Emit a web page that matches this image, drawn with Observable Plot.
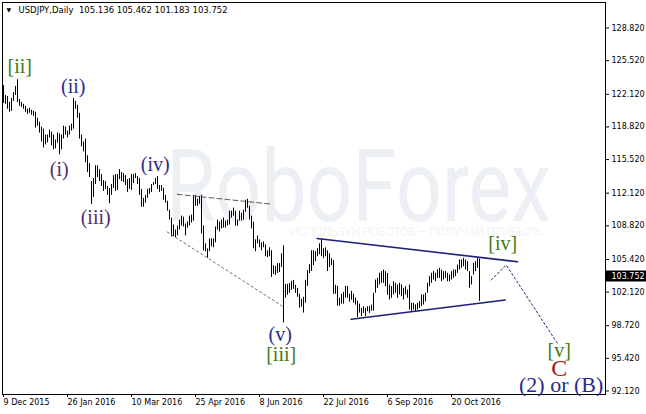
<!DOCTYPE html>
<html><head><meta charset="utf-8">
<script src="https://cdn.jsdelivr.net/npm/d3@7"></script>
<script src="https://cdn.jsdelivr.net/npm/@observablehq/plot@0.6"></script>
<style>
html,body{margin:0;padding:0;background:#fff;}
svg{display:block;}
</style></head>
<body>
<script>
// ---- data ----
const symbolName = "USDJPY,Daily";
const lastOHLC = [105.136, 105.462, 101.183, 103.752];
const xTickIdx = [0, 32, 64, 96, 128, 160, 192, 224];
const xTickLabels = ["9 Dec 2015", "26 Jan 2016", "10 Mar 2016", "25 Apr 2016", "8 Jun 2016", "22 Jul 2016", "6 Sep 2016", "20 Oct 2016"];
const yTicks = [128.82, 125.52, 122.12, 118.82, 115.52, 112.12, 108.82, 105.42, 102.12, 98.72, 95.42, 92.12];

// daily highs, 9 Dec 2015 .. 9 Nov 2016
const highs = [
123.0,122.0,121.9,121.3,121.7,122.3,122.9,123.6,121.6,121.3,121.1,120.9,120.6,120.7,120.5,120.4,
120.3,119.7,119.3,118.8,118.6,118.0,118.0,118.5,118.3,118.0,117.5,118.2,118.1,118.0,118.9,118.8,118.4,118.9,119.1,121.7,
121.4,121.0,120.2,118.0,117.3,117.6,115.9,115.1,113.3,113.6,114.9,114.9,114.5,114.0,113.4,113.3,112.8,112.6,113.0,113.9,114.0,
114.0,114.5,114.2,114.1,113.9,113.5,113.6,114.0,114.0,114.1,113.8,113.6,112.5,111.6,111.9,112.5,112.6,113.0,113.2,113.6,113.8,112.9,112.9,
112.6,111.9,111.3,110.4,109.6,108.9,108.4,108.8,109.4,109.8,109.7,109.0,109.2,109.8,109.9,111.9,111.9,111.5,111.8,111.9,108.8,
107.0,106.5,107.5,107.5,107.5,108.7,109.4,109.2,109.4,109.6,109.3,109.4,110.3,110.3,110.6,110.3,109.4,110.3,110.1,110.4,111.4,111.5,
110.8,109.8,109.2,107.4,107.8,107.4,107.1,107.2,106.9,106.3,106.6,106.3,104.8,104.7,105.0,105.0,106.0,106.8,102.9,102.9,103.0,103.2,
103.3,102.8,102.5,101.9,101.4,101.6,103.3,104.3,104.9,106.3,106.3,106.2,106.5,107.0,107.5,106.5,106.6,106.3,106.0,105.5,105.3,
102.8,102.7,101.5,101.9,102.1,102.7,102.7,101.9,102.2,101.9,101.5,101.2,100.9,100.48,100.65,100.48,100.65,100.65,100.8,102.0,103.34,103.51,104.02,
104.19,104.35,104.19,104.0,102.84,102.67,103.17,103.01,102.84,103.01,102.84,102.5,102.67,102.33,102.84,100.98,100.98,100.82,100.98,101.15,101.83,101.83,
102.0,103.01,103.68,104.02,104.19,104.02,104.35,104.52,104.35,104.19,104.19,104.02,103.85,104.19,104.35,104.35,104.86,105.37,105.37,105.53,105.37,
105.2,104.19,103.68,105.03,105.2,105.53,105.462
];
// daily lows, same days
const lows = [
121.2,121.1,120.6,120.3,120.4,121.4,122.0,121.3,120.9,120.8,120.6,120.3,120.1,120.2,120.0,119.9,
118.7,118.9,118.2,117.3,116.7,117.0,117.2,117.7,116.9,116.5,116.6,117.2,116.0,116.5,117.6,118.0,117.7,118.0,118.4,118.6,
120.6,119.7,117.6,116.8,116.3,115.2,114.2,113.7,110.98,111.7,113.0,113.7,113.3,112.8,112.3,112.5,111.9,111.05,111.9,112.6,112.3,
112.4,113.5,113.3,113.2,112.9,112.2,112.5,112.4,113.1,113.6,113.0,111.9,110.7,110.7,111.1,111.6,112.0,112.2,112.9,113.0,112.5,112.2,112.3,
111.4,111.1,110.3,109.4,107.7,107.7,107.6,107.8,108.4,108.8,108.7,107.8,108.6,108.8,109.1,109.3,110.8,110.8,111.0,108.0,106.3,
106.2,105.55,106.2,106.7,106.6,107.1,108.4,108.2,108.5,108.6,108.6,108.8,108.9,109.6,109.8,108.8,108.8,109.3,109.3,109.4,110.2,110.6,
109.4,108.5,106.5,106.2,107.0,106.6,106.3,106.6,105.7,105.6,105.7,103.6,103.9,103.8,104.0,104.1,104.6,99.0,101.5,101.8,102.0,102.3,
102.4,102.0,101.6,100.5,100.6,100.0,101.0,102.7,104.0,104.2,104.8,105.2,105.7,105.9,105.7,105.5,105.7,104.2,104.6,104.8,101.9,
101.9,100.7,100.7,100.9,100.9,101.5,101.5,101.1,101.3,101.0,100.8,99.55,100.0,99.64,99.97,99.64,100.14,99.97,100.2,100.2,102.0,102.5,102.84,
103.01,103.01,102.67,101.8,101.32,101.49,101.83,102.0,101.49,101.83,101.66,101.32,101.83,101.49,100.31,100.14,100.31,100.14,100.31,100.48,100.65,100.82,
101.15,102.0,102.67,103.01,103.34,103.17,103.51,103.51,103.17,103.34,103.51,103.17,103.17,103.34,103.51,103.68,104.02,104.35,104.52,104.69,104.35,
104.19,102.5,102.84,103.85,104.19,104.52,101.183
];

// analysis drawings (bar index, price)
const triUpper = [[156.85, 107.54], [257.0, 105.19]];
const triLower = [[173.85, 99.37], [250.85, 101.32]];
const wedgeUpper = [[86.85, 112.01], [133.35, 111.03]];
const wedgeLower = [[81.85, 108.2], [139.35, 100.71]];
const projection = [[243.85, 103.34], [251.35, 104.86], [276.85, 96.97]];

const waveText  = ["[ii]", "(ii)", "(i)", "(iii)", "(iv)", "(v)", "[iii]", "[iv]", "[v]", "C", "(2) or (B)"];
const waveX     = [8.1, 34.85, 27.85, 46.1, 75.85, 138.35, 138.85, 249.6, 277.85, 277.85, 278.85];
const waveY     = [124.88, 122.86, 114.47, 109.61, 114.98, 97.78, 95.81, 106.98, 96.16, 94.39, 92.78];
const waveColor = ["#3f7a14", "#2b2b8a", "#532a6e", "#532a6e", "#2b2b8a", "#2b2b8a", "#3f7a14", "#3f7a14", "#3f7a14", "#a81818", "#2b2b8a"];
const waveSize  = [20, 20, 20, 20, 20, 20, 20, 20, 20, 24, 22];

// ---- build ----
const bars = d3.range(highs.length).map(i => ({i, high: highs[i], low: lows[i]}));
const pts = a => a.map(([i, p]) => ({i, p}));
const waves = waveText.map((t, k) => ({t, x: waveX[k], y: waveY[k], c: waveColor[k], s: waveSize[k]}));
const close = lastOHLC[3];
const header = symbolName + "\u00a0\u00a0" + lastOHLC.map(v => v.toFixed(3)).join(" ");

const chart = Plot.plot({
  width: 646, height: 414,
  marginLeft: 2, marginRight: 41, marginTop: 2, marginBottom: 20,
  style: {fontFamily: "DejaVu Sans", fontSize: "8px", background: "#fff", color: "#000", overflow: "visible"},
  x: {domain: [-0.5, 301], axis: null},
  y: {domain: [91.7661, 131.4018], axis: null},
  color: {type: "identity"},
  marks: [
    Plot.text(["RoboForex"], {x: 177.5, y: 109.3, text: d => d, fontFamily: "Roboto", fontSize: 100, fill: "#eceff4", textAnchor: "middle", lineAnchor: "bottom"}),
    Plot.text(["ИСПОЛЬЗУЙ РОБОТОВ – ПОЛУЧАЙ ПРИБЫЛЬ"], {x: 206.6, y: 108.2, text: d => d, fontFamily: "Roboto", fontWeight: 300, fontSize: 13.5, fill: "#edf0f4", textAnchor: "middle", lineAnchor: "middle"}),
    Plot.frame({stroke: "#000"}),
    Plot.ruleX(bars, {x: "i", y1: "low", y2: "high", stroke: "#000", strokeWidth: 1}),
    Plot.line(pts(wedgeUpper), {x: "i", y: "p", stroke: "#5a5a5a", strokeWidth: 1, strokeDasharray: "5,3"}),
    Plot.line(pts(wedgeLower), {x: "i", y: "p", stroke: "#6a6a6a", strokeWidth: 1, strokeDasharray: "2,3"}),
    Plot.line(pts(triUpper), {x: "i", y: "p", stroke: "#1f1f7a", strokeWidth: 1.6}),
    Plot.line(pts(triLower), {x: "i", y: "p", stroke: "#1f1f7a", strokeWidth: 1.6}),
    Plot.line(pts(projection), {x: "i", y: "p", stroke: "#1f1f7a", strokeWidth: 1, strokeDasharray: "2,2.5"}),
    Plot.text(waves, {x: "x", y: "y", text: "t", fill: "c", fontSize: "s", fontFamily: "Liberation Serif", textAnchor: "middle", lineAnchor: "middle"}),
    Plot.axisY(yTicks, {anchor: "right", tickSize: 3, tickPadding: 3, tickFormat: d => d.toFixed(3), fontSize: 8, fill: "#000"}),
    Plot.ruleY([close], {x1: 301.5, x2: 324, stroke: "#000", strokeWidth: 11}),
    Plot.text([close], {x: 304, y: d => d, text: d => d.toFixed(3), fill: "#fff", textAnchor: "start", fontSize: 8}),
    Plot.axisX(xTickIdx, {anchor: "bottom", tickSize: 3, tickPadding: 2, tickFormat: d => xTickLabels[xTickIdx.indexOf(d)], textAnchor: "start", dx: 0, fontSize: 8, fill: "#000"}),
    Plot.text([header], {frameAnchor: "top-left", dx: 16, dy: 4, textAnchor: "start", lineAnchor: "top", fontSize: 8.5, fill: "#000"}),
    Plot.text(["▼"], {frameAnchor: "top-left", dx: 4, dy: 5.5, textAnchor: "start", lineAnchor: "top", fontSize: 6, fill: "#000"})
  ]
});
document.body.appendChild(chart);
// stretch watermark texts to their drawn width
d3.select(chart).selectAll("text").each(function () {
  const t = this.textContent;
  if (t === "RoboForex") d3.select(this).attr("textLength", 385).attr("lengthAdjust", "spacingAndGlyphs");
  if (t.startsWith("ИСПОЛЬЗУЙ")) d3.select(this).attr("textLength", 253).attr("lengthAdjust", "spacingAndGlyphs");
});
</script>
</body></html>
